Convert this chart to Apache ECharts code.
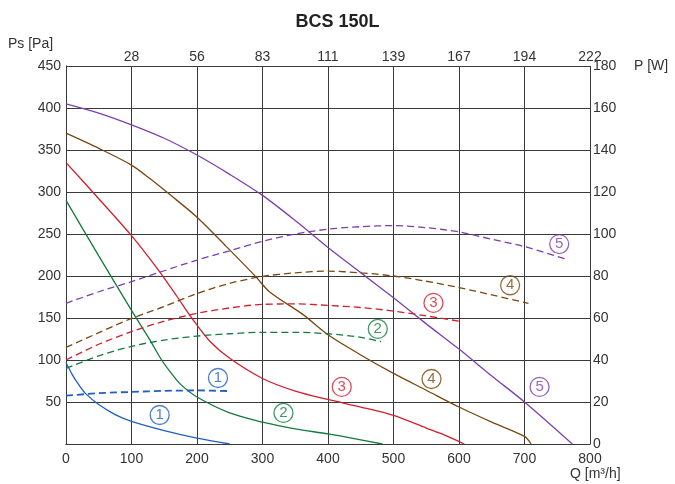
<!DOCTYPE html>
<html>
<head>
<meta charset="utf-8">
<script src="https://cdn.jsdelivr.net/npm/echarts@6/dist/echarts.min.js"></script>
<style>html,body{margin:0;padding:0;background:#fff}#c{width:675px;height:484px}</style>
</head>
<body>
<div id="c"></div>
<script>
// ---- data (Q in m3/h) ----
const topTickLabels = ['', '28', '56', '83', '111', '139', '167', '194', '222'];

// Static pressure curves [Q, Ps Pa]
const ps1 = [[0,97],[10,82],[20,70],[30,60],[50,47],[75,35],[100,27],[150,16],[200,7],[250,0]];
const ps2 = [[0,290],[50,224],[100,159],[128,124],[146,100],[160,85],[175,71],[200,56],[250,37],[300,26],[350,18],[400,12],[450,5],[483,0]];
const ps3 = [[0,335],[50,292],[100,248],[143,205],[170,175],[192,150],[220,122],[250,102],[300,78],[350,63],[400,53],[450,44],[500,34],[550,19],[580,10],[608,0]];
const ps4 = [[0,370],[50,352],[100,332],[128,316],[160,296],[200,270],[245,235],[290,199],[311,181],[362,154],[400,130],[450,106],[500,84],[550,64],[600,44],[650,26],[700,9],[710,0]];
const ps5 = [[0,405],[50,394],[100,380],[150,364],[200,344],[250,321],[300,296],[350,266],[400,234],[450,204],[500,174],[550,143],[600,113],[650,81],[700,50],[773,0]];

// Power curves [Q, P W]
const pw1 = [[0,23],[50,24.2],[100,24.8],[150,25.3],[200,25.5],[250,25.2]];
const pw2 = [[0,36],[50,42],[100,46.5],[150,49.5],[200,51.4],[250,52.5],[300,53.2],[350,53.2],[400,52.5],[450,50.8],[481,48.7]];
const pw3 = [[0,40],[50,47.5],[100,53.5],[150,58.5],[200,62.2],[250,64.8],[300,66.5],[350,66.7],[400,66],[450,65],[500,63.3],[550,61],[606,58.2]];
const pw4 = [[0,46],[50,53],[100,59.8],[150,65.5],[200,71.7],[250,76.5],[300,79.8],[350,81.5],[400,82.3],[450,81.5],[500,80],[550,77.5],[600,74.5],[650,71],[706,67]];
const pw5 = [[0,67],[50,72.5],[100,77.3],[150,82.5],[200,87.6],[250,92],[300,96.5],[350,100],[400,102.3],[450,103.5],[500,104],[550,103],[600,101],[650,97.5],[700,94],[764,88]];

// Curve tags [Q, Ps, number]
const tags1 = [[143,34.5,'1'],[232,78.6,'1']];
const tags2 = [[332,37,'2'],[476,137,'2']];
const tags3 = [[421,68,'3'],[561,168,'3']];
const tags4 = [[558,77.4,'4'],[678,189,'4']];
const tags5 = [[723,68,'5'],[753,238,'5']];

const colors = ['#1f5fbf', '#137a3e', '#d0202e', '#7a4710', '#7e3fae'];
const psList = [ps1, ps2, ps3, ps4, ps5];
const pwList = [pw1, pw2, pw3, pw4, pw5];
const tagList = [tags1, tags2, tags3, tags4, tags5];

const FONT = 'Liberation Sans, Arial, sans-serif';
const series = [];
psList.forEach((d, i) => {
  series.push({ type: 'line', data: d, xAxisIndex: 0, yAxisIndex: 0, smooth: 0.3, symbol: 'none',
    lineStyle: { color: colors[i], width: 1.3 }, z: 3 });
});
pwList.forEach((d, i) => {
  series.push({ type: 'line', data: d, xAxisIndex: 0, yAxisIndex: 1, smooth: 0.3, symbol: 'none',
    lineStyle: { color: colors[i], width: i === 0 ? 1.8 : 1.3, type: [7, 4] }, z: 3 });
});
tagList.forEach((d, i) => {
  series.push({ type: 'scatter', data: d, xAxisIndex: 0, yAxisIndex: 0, symbol: 'circle', symbolSize: 19,
    itemStyle: { color: 'rgba(255,255,255,0)', borderColor: colors[i], borderWidth: 1.3 },
    label: { show: true, position: 'inside', formatter: p => p.data[2], color: colors[i],
      fontSize: 15, fontFamily: FONT },
    z: 4, silent: true });
});

const chart = echarts.init(document.getElementById('c'), null, { renderer: 'canvas' });
const gridLine = { show: true, lineStyle: { color: '#3a3a3a', width: 1 } };
chart.setOption({
  animation: false,
  backgroundColor: '#fff',
  title: { text: 'BCS 150L', left: 'center', top: 8,
    textStyle: { fontSize: 18, fontWeight: 'bold', color: '#222', fontFamily: FONT } },
  grid: { left: 66, right: 85, top: 66, bottom: 40, containLabel: false },
  xAxis: [
    { type: 'value', position: 'bottom', min: 0, max: 800, interval: 100,
      axisLine: { show: true, lineStyle: { color: '#3a3a3a' } }, axisTick: { show: false },
      splitLine: gridLine,
      axisLabel: { color: '#333', fontSize: 14, fontFamily: FONT, margin: 8 } },
    { type: 'value', position: 'top', min: 0, max: 800, interval: 100,
      axisLine: { show: true, lineStyle: { color: '#3a3a3a' } }, axisTick: { show: false },
      splitLine: { show: false },
      axisLabel: { color: '#333', fontSize: 14, fontFamily: FONT, margin: 2,
        formatter: v => topTickLabels[Math.round(v / 100)] } }
  ],
  yAxis: [
    { type: 'value', position: 'left', min: 0, max: 450, interval: 50,
      axisLine: { show: true, lineStyle: { color: '#3a3a3a' } }, axisTick: { show: false },
      splitLine: gridLine,
      axisLabel: { color: '#333', fontSize: 14, fontFamily: FONT, margin: 5,
        formatter: v => v === 0 ? '' : String(v) } },
    { type: 'value', position: 'right', min: 0, max: 180, interval: 20,
      axisLine: { show: true, lineStyle: { color: '#3a3a3a' } },
      axisTick: { show: true, length: 5, lineStyle: { color: '#3a3a3a' } },
      splitLine: { show: false },
      axisLabel: { color: '#333', fontSize: 14, fontFamily: FONT, margin: 3 } }
  ],
  graphic: [
    { type: 'text', left: 8, top: 37, style: { text: 'Ps [Pa]', fill: '#333', font: '14px ' + FONT } },
    { type: 'text', left: 634, top: 59, style: { text: 'P [W]', fill: '#333', font: '14px ' + FONT } },
    { type: 'text', left: 570, top: 467, style: { text: 'Q [m³/h]', fill: '#333', font: '14px ' + FONT } }
  ],
  series: series
});
</script>
</body>
</html>
